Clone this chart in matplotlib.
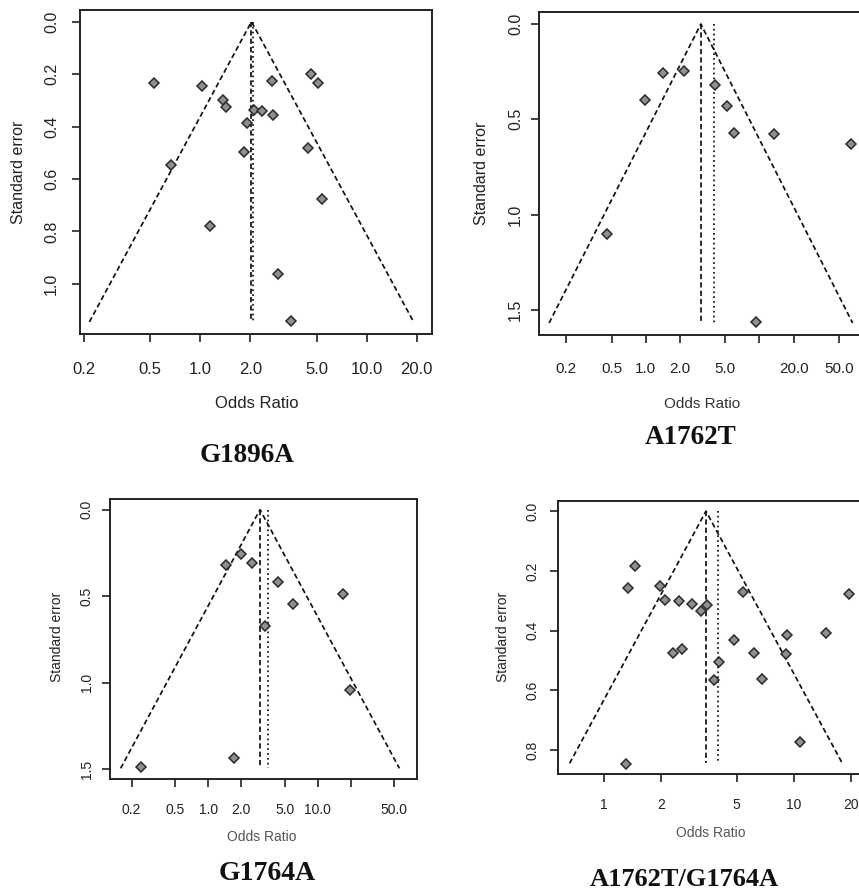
import numpy as np
import matplotlib
matplotlib.use("Agg")
import matplotlib.pyplot as plt

plt.rcParams['font.family'] = ['Liberation Sans', 'DejaVu Sans']

W, H = 859, 892

# ---- data (odds ratio, standard error) ----
g1896a_or = [0.53, 1.02, 1.37, 1.42, 0.67, 1.14, 1.91, 1.82, 2.11, 2.34,
             2.70, 2.73, 4.61, 5.08, 4.46, 5.39, 2.92, 3.49]
g1896a_se = [0.235, 0.245, 0.297, 0.327, 0.548, 0.781, 0.385, 0.497, 0.337, 0.341,
             0.226, 0.356, 0.201, 0.235, 0.480, 0.675, 0.961, 1.142]

a1762t_or = [1.43, 2.17, 0.98, 4.07, 5.23, 5.99, 13.3, 63.6, 0.454, 9.35]
a1762t_se = [0.259, 0.247, 0.399, 0.320, 0.432, 0.571, 0.578, 0.630, 1.101, 1.563]

g1764a_or = [1.45, 1.98, 2.51, 4.34, 5.95, 3.30, 16.9, 19.9, 1.74, 0.242]
g1764a_se = [0.320, 0.256, 0.307, 0.420, 0.546, 0.673, 0.488, 1.043, 1.434, 1.490]

double_or = [1.46, 1.34, 1.97, 2.11, 2.49, 2.92, 3.26, 3.51, 5.38, 19.6, 9.19,
             14.9, 4.83, 2.31, 2.58, 6.18, 9.15, 4.02, 3.82, 6.84, 10.8, 1.30]
double_se = [0.185, 0.256, 0.250, 0.297, 0.300, 0.310, 0.335, 0.314, 0.271, 0.277,
             0.414, 0.407, 0.432, 0.474, 0.461, 0.474, 0.479, 0.507, 0.567, 0.564,
             0.772, 0.847]

# pooled estimates: dashed (funnel centre) and dotted lines
centre = {"G1896A": 2.03, "A1762T": 3.05, "G1764A": 2.98, "A1762T/G1764A": 3.45}
dotted = {"G1896A": 2.08, "A1762T": 3.97, "G1764A": 3.49, "A1762T/G1764A": 3.99}

panels = [
    dict(name="G1896A", x=g1896a_or, y=g1896a_se, se_max=1.145,
         rect=(80, 9.6, 432, 334), xlim=(0.189, 24.7), ylim=(1.191, -0.046),
         xticks=[0.2, 0.5, 1, 2, 5, 10, 20],
         xlabels=["0.2", "0.5", "1.0", "2.0", "5.0", "10.0", "20.0"],
         yticks=[0, 0.2, 0.4, 0.6, 0.8, 1.0],
         ylabels=["0.0", "0.2", "0.4", "0.6", "0.8", "1.0"],
         fs=12, yfs=11.5, xpad=14.0, ypad=9.2, lab_fs=12, lab_col="#222222",
         xlab_pos=(257, 404), ylab_pos=(19, 172), ylab_fs=11.5,
         title_pos=(247, 455), title_fs=19.5),
    dict(name="A1762T", x=a1762t_or, y=a1762t_se, se_max=1.568,
         rect=(539, 12, 865, 335), xlim=(0.115, 84.7), ylim=(1.631, -0.063),
         xticks=[0.2, 0.5, 1, 2, 5, 10, 20, 50],
         xlabels=["0.2", "0.5", "1.0", "2.0", "5.0", "", "20.0", "50.0"],
         yticks=[0, 0.5, 1.0, 1.5], ylabels=["0.0", "0.5", "1.0", "1.5"],
         fs=11, yfs=11.5, xpad=13.8, ypad=5.6, lab_fs=11, lab_col="#333333",
         xlab_pos=(702, 404), ylab_pos=(482, 173), ylab_fs=11.5,
         title_pos=(691, 438), title_fs=19.5),
    dict(name="G1764A", x=g1764a_or, y=g1764a_se, se_max=1.496,
         rect=(110, 499.3, 417, 778.7), xlim=(0.127, 81.0), ylim=(1.556, -0.060),
         xticks=[0.2, 0.5, 1, 2, 5, 10, 20, 50],
         xlabels=["0.2", "0.5", "1.0", "2.0", "5.0", "10.0", "", "50.0"],
         yticks=[0, 0.5, 1.0, 1.5], ylabels=["0.0", "0.5", "1.0", "1.5"],
         fs=10, yfs=10, xpad=11.3, ypad=5.8, lab_fs=10, lab_col="#555555",
         xlab_pos=(262, 837), ylab_pos=(57, 637), ylab_fs=10,
         title_pos=(267, 873), title_fs=20),
    dict(name="A1762T/G1764A", x=double_or, y=double_se, se_max=0.845,
         rect=(557.7, 501, 860, 773.5), xlim=(0.570, 22.4), ylim=(0.879, -0.034),
         xticks=[1, 2, 5, 10, 20], xlabels=["1", "2", "5", "10", "20"],
         yticks=[0, 0.2, 0.4, 0.6, 0.8], ylabels=["0.0", "0.2", "0.4", "0.6", "0.8"],
         fs=10, yfs=10, xpad=11.3, ypad=7.0, lab_fs=10, lab_col="#555555",
         xlab_pos=(711, 833), ylab_pos=(503, 637), ylab_fs=10,
         title_pos=(684, 880), title_fs=19),
]

fig = plt.figure(figsize=(W / 100, H / 100), dpi=100)


def px_rect(l, t, r, b):
    return [l / W, 1 - b / H, (r - l) / W, (b - t) / H]


for p in panels:
    ax = fig.add_axes(px_rect(*p["rect"]))
    ax.set_xscale("log")
    ax.set_xlim(*p["xlim"])
    ax.set_ylim(*p["ylim"])

    c = centre[p["name"]]
    sm = p["se_max"]
    half = np.exp(1.96 * sm)
    # funnel triangle
    ax.plot([c / half, c, c * half], [sm, 0, sm], color="#111111", lw=1.25,
            linestyle=(0, (3.0, 1.8)))
    ax.plot([c, c], [0, sm], color="#111111", lw=1.25, linestyle=(0, (3.0, 1.8)))
    d = dotted[p["name"]]
    ax.plot([d, d], [0, sm], color="#111111", lw=1.25, linestyle=(0, (1, 1.8)))

    ax.plot(p["x"], p["y"], linestyle="none", marker="D", ms=4.8,
            mfc="#8f8f8f", mec="#2a2a2a", mew=1.1, zorder=3)

    ax.set_xticks(p["xticks"])
    ax.set_xticklabels(p["xlabels"])
    ax.xaxis.set_minor_locator(matplotlib.ticker.NullLocator())
    ax.set_yticks(p["yticks"])
    ax.set_yticklabels(p["ylabels"], rotation=90, va="center")
    ax.tick_params(axis="x", direction="out", length=6, width=1.2,
                   labelsize=p["fs"], pad=p["xpad"], colors="#222222")
    ax.tick_params(axis="y", direction="out", length=6, width=1.2,
                   labelsize=p["yfs"], pad=p["ypad"], colors="#222222")
    for s in ax.spines.values():
        s.set_linewidth(1.4)
        s.set_color("#222222")

    fig.text(p["xlab_pos"][0] / W, 1 - p["xlab_pos"][1] / H, "Odds Ratio",
             ha="center", va="center", fontsize=p["lab_fs"], color=p["lab_col"])
    fig.text(p["ylab_pos"][0] / W, 1 - p["ylab_pos"][1] / H, "Standard error",
             ha="center", va="center", rotation=90, fontsize=p["ylab_fs"],
             color="#222222")
    fig.text(p["title_pos"][0] / W, 1 - p["title_pos"][1] / H, p["name"],
             ha="center", va="center", fontsize=p["title_fs"], fontweight="bold",
             family=["Liberation Serif", "DejaVu Serif"], color="#111111")

fig.savefig("out.png", dpi=100, facecolor="white")
